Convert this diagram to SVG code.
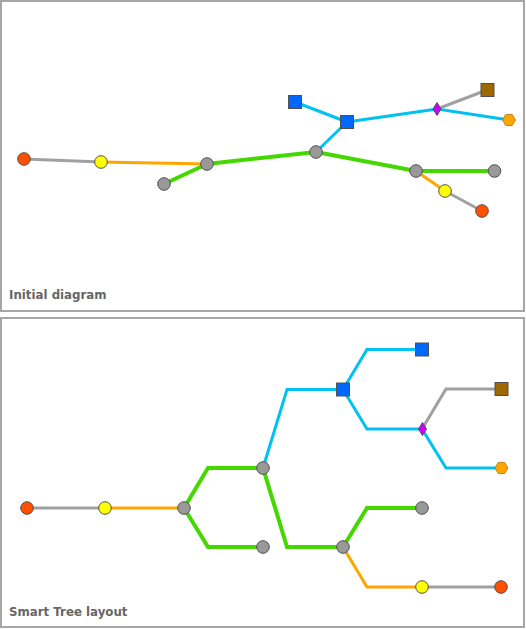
<svg xmlns="http://www.w3.org/2000/svg" width="526" height="629" viewBox="0 0 526 629">
<style>
.panel{fill:#ffffff;stroke:#a6a6a6;stroke-width:2}
.lbl{font-family:"DejaVu Sans",Verdana,sans-serif;font-weight:bold;font-size:11.8px;fill:#666666}
.e{fill:none;stroke-linejoin:miter;stroke-linecap:butt}
.g{stroke:#44d800;stroke-width:4}
.c{stroke:#00c2f2;stroke-width:3}
.o{stroke:#ffa500;stroke-width:3}
.k{stroke:#a0a0a0;stroke-width:3}
.n{stroke:#505050;stroke-width:1}
.red{fill:#ff5000}
.yel{fill:#ffff00}
.gry{fill:#999999}
.blu{fill:#0068ff}
.pur{fill:#cc00ff}
.brn{fill:#a06800}
.hex{fill:#ffa500;stroke:#b07000;stroke-width:0.8}
</style>
<defs>
<circle id="cir" r="6.3" />
<rect id="sq" x="-6.5" y="-6.5" width="13" height="13"/>
<polygon id="dia" points="0,-6.5 4,0 0,6.5 -4,0"/>
<polygon id="hx" points="-6.5,0 -3.2,-5.6 3.2,-5.6 6.5,0 3.2,5.6 -3.2,5.6"/>
</defs>
<rect class="panel" x="1" y="1" width="523" height="310"/>
<rect class="panel" x="1" y="318" width="523" height="309"/>
<text class="lbl" x="9" y="299">Initial diagram</text>
<text class="lbl" x="9" y="616">Smart Tree layout</text>

<g id="connectors1">
<line class="e k" x1="24" y1="159" x2="101" y2="162"/>
<line class="e o" x1="101" y1="162" x2="207" y2="164"/>
<line class="e g" x1="207" y1="164" x2="164" y2="184"/>
<line class="e g" x1="207" y1="164" x2="316" y2="152"/>
<line class="e c" x1="316" y1="152" x2="347" y2="122"/>
<line class="e c" x1="347" y1="122" x2="295" y2="102"/>
<line class="e c" x1="347" y1="122" x2="437" y2="109"/>
<line class="e k" x1="437" y1="109" x2="487" y2="90"/>
<line class="e c" x1="437" y1="109" x2="509" y2="120"/>
<line class="e g" x1="316" y1="152" x2="416" y2="171"/>
<line class="e g" x1="416" y1="171" x2="494" y2="171"/>
<line class="e o" x1="416" y1="171" x2="445" y2="191"/>
<line class="e k" x1="445" y1="191" x2="482" y2="211"/>
</g>

<g id="nodes1">
<g id="a1"><use href="#cir" x="24" y="159" class="n red"/></g>
<g id="a2"><use href="#cir" x="101" y="162" class="n yel"/></g>
<g id="a3"><use href="#cir" x="207" y="164" class="n gry"/></g>
<g id="a4"><use href="#cir" x="164" y="184" class="n gry"/></g>
<g id="a5"><use href="#cir" x="316" y="152" class="n gry"/></g>
<g id="a6"><use href="#sq" x="347" y="122" class="n blu"/></g>
<g id="a7"><use href="#sq" x="295" y="102" class="n blu"/></g>
<g id="a8"><use href="#dia" x="437" y="109" class="n pur"/></g>
<g id="a9"><use href="#sq" x="487.5" y="90" class="n brn"/></g>
<g id="a10"><use href="#hx" x="509" y="120" class="hex"/></g>
<g id="a11"><use href="#cir" x="416" y="171" class="n gry"/></g>
<g id="a12"><use href="#cir" x="494.5" y="171" class="n gry"/></g>
<g id="a13"><use href="#cir" x="445" y="191" class="n yel"/></g>
<g id="a14"><use href="#cir" x="482" y="211" class="n red"/></g>
</g>

<g id="connectors2">
<polyline class="e k" points="27,508 105,508"/>
<polyline class="e o" points="105,508 184,508"/>
<polyline class="e g" points="184,508 208,468 263,468"/>
<polyline class="e g" points="184,508 208,547 263,547"/>
<polyline class="e c" points="263,468 287,389.5 343,389.5"/>
<polyline class="e g" points="263,468 287,547 343,547"/>
<polyline class="e c" points="343,389.5 367,349.5 422,349.5"/>
<polyline class="e c" points="343,389.5 367,429 422,429"/>
<polyline class="e k" points="422,429 446,389 501,389"/>
<polyline class="e c" points="422,429 446,468 501,468"/>
<polyline class="e g" points="343,547 367,508 422,508"/>
<polyline class="e o" points="343,547 367,587 422,587"/>
<polyline class="e k" points="422,587 501,587"/>
</g>

<g id="nodes2">
<g id="b1"><use href="#cir" x="27" y="508" class="n red"/></g>
<g id="b2"><use href="#cir" x="105" y="508" class="n yel"/></g>
<g id="b3"><use href="#cir" x="184" y="508" class="n gry"/></g>
<g id="b4"><use href="#cir" x="263" y="468" class="n gry"/></g>
<g id="b5"><use href="#cir" x="263" y="547" class="n gry"/></g>
<g id="b6"><use href="#sq" x="343" y="389.5" class="n blu"/></g>
<g id="b7"><use href="#sq" x="422" y="349.5" class="n blu"/></g>
<g id="b8"><use href="#dia" x="422.5" y="429" class="n pur"/></g>
<g id="b9"><use href="#sq" x="501.5" y="389" class="n brn"/></g>
<g id="b10"><use href="#hx" x="501.5" y="468" class="hex"/></g>
<g id="b11"><use href="#cir" x="343" y="547" class="n gry"/></g>
<g id="b12"><use href="#cir" x="422" y="508" class="n gry"/></g>
<g id="b13"><use href="#cir" x="422" y="587" class="n yel"/></g>
<g id="b14"><use href="#cir" x="501" y="587" class="n red"/></g>
</g>
</svg>
